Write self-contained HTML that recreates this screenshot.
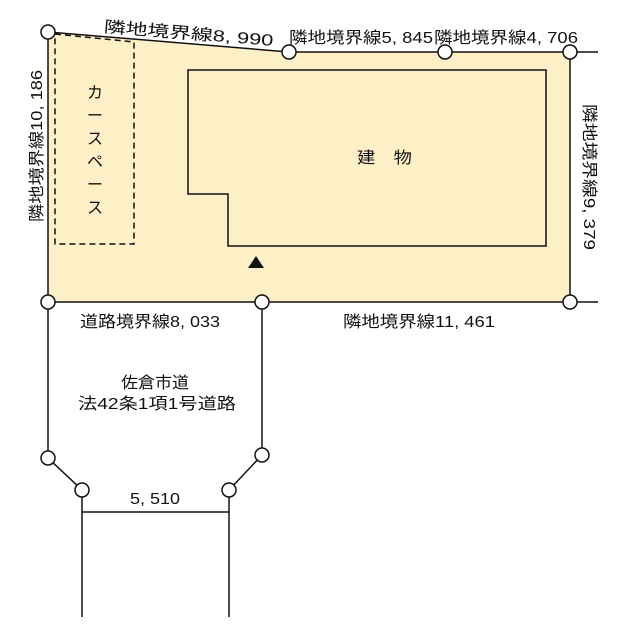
<!DOCTYPE html>
<html><head><meta charset="utf-8"><style>
body{margin:0;background:#fff}
svg{display:block}
text{font-family:"Liberation Sans","Noto Sans CJK JP",sans-serif;font-size:16px;fill:#111}
</style></head><body>
<svg width="640" height="640" viewBox="0 0 640 640" xmlns="http://www.w3.org/2000/svg">
<polygon points="48,32 289,52 570,52 570,302 48,302" fill="#fdefc6" stroke="#111" stroke-width="1.5"/>
<line x1="570" y1="52" x2="598" y2="52" stroke="#111" stroke-width="1.5"/>
<line x1="570" y1="302" x2="598" y2="302" stroke="#111" stroke-width="1.5"/>
<polygon points="188,70 546,70 546,246 228,246 228,194 188,194" fill="none" stroke="#111" stroke-width="1.5"/>
<polygon points="55,34 134,42 134,244 55,244" fill="none" stroke="#111" stroke-width="1.5" stroke-dasharray="6,4"/>
<polygon points="256,256 248,268 264,268" fill="#111"/>
<polyline points="48,302 48,458 82,490 82,617" fill="none" stroke="#111" stroke-width="1.5"/>
<polyline points="262,302 262,455 229,490 229,617" fill="none" stroke="#111" stroke-width="1.5"/>
<line x1="82" y1="512" x2="229" y2="512" stroke="#111" stroke-width="1.5"/>
<g fill="#fff" stroke="#111" stroke-width="1.5">
<circle cx="48" cy="32" r="7"/><circle cx="289" cy="52" r="7"/><circle cx="445" cy="52" r="7"/><circle cx="570" cy="52" r="7"/>
<circle cx="570" cy="302" r="7"/><circle cx="48" cy="302" r="7"/><circle cx="262" cy="302" r="7"/>
<circle cx="48" cy="458" r="7"/><circle cx="82" cy="490" r="7"/><circle cx="262" cy="455" r="7"/><circle cx="229" cy="490" r="7"/>
</g>
<g lengthAdjust="spacingAndGlyphs">
<text x="104" y="32" transform="rotate(4.7 104 26)" textLength="170" lengthAdjust="spacingAndGlyphs">隣地境界線8, 990</text>
<text x="289" y="43" textLength="144" lengthAdjust="spacingAndGlyphs">隣地境界線5, 845</text>
<text x="434" y="43" textLength="144" lengthAdjust="spacingAndGlyphs">隣地境界線4, 706</text>
<text transform="translate(42,222) rotate(-90)" textLength="152" lengthAdjust="spacingAndGlyphs">隣地境界線10, 186</text>
<text transform="translate(584,104) rotate(90)" textLength="146" lengthAdjust="spacingAndGlyphs">隣地境界線9, 379</text>
<text x="80" y="327" textLength="140" lengthAdjust="spacingAndGlyphs">道路境界線8, 033</text>
<text x="343" y="327" textLength="152" lengthAdjust="spacingAndGlyphs">隣地境界線11, 461</text>
<text x="357" y="163" textLength="55" lengthAdjust="spacingAndGlyphs">建　物</text>
</g>
<g text-anchor="middle" style="font-size:17px"><text x="95" y="98">カ</text><text x="95" y="121">ー</text><text x="95" y="144">ス</text><text x="95" y="167">ペ</text><text x="95" y="190">ー</text><text x="95" y="213">ス</text></g>
<text x="121" y="388" textLength="68" lengthAdjust="spacingAndGlyphs">佐倉市道</text>
<text x="78" y="409" textLength="158" lengthAdjust="spacingAndGlyphs">法42条1項1号道路</text>
<text x="130" y="504" textLength="50" lengthAdjust="spacingAndGlyphs">5, 510</text>
</svg>
</body></html>
